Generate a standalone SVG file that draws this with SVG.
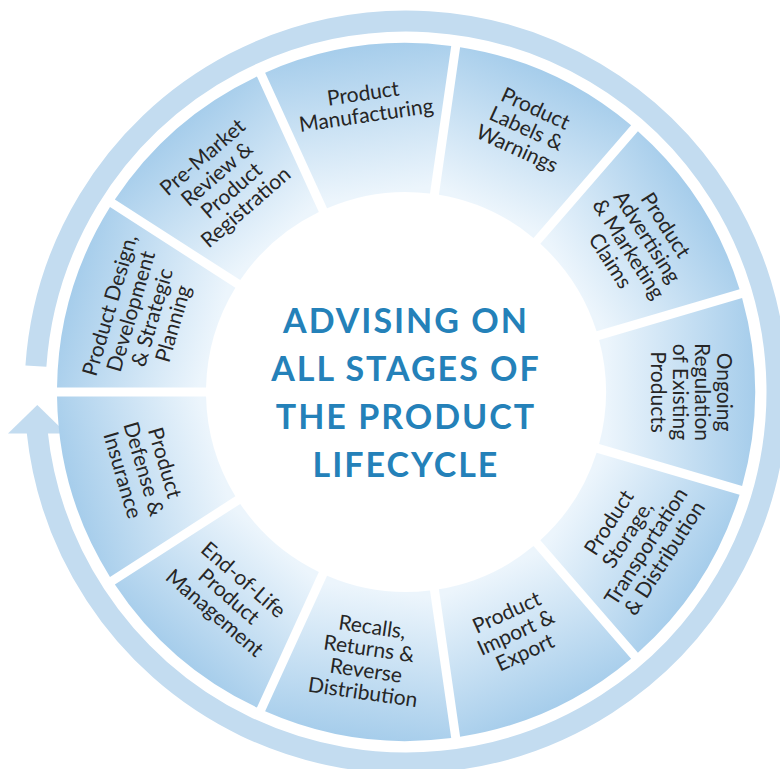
<svg xmlns="http://www.w3.org/2000/svg" width="780" height="769" viewBox="0 0 780 769">
<style>
.seg{fill:url(#segGrad);}
.lbl{font-family:Lato,"Liberation Sans",sans-serif;font-size:21px;fill:#262626;text-anchor:middle;}
.ttl{font-family:Lato,"Liberation Sans",sans-serif;font-weight:bold;font-size:34px;fill:#2481b9;text-anchor:middle;letter-spacing:2px;}
.ring{fill:none;stroke:#c3dcf0;stroke-width:21;}
.head{fill:#c3dcf0;}
</style>
<defs>
<linearGradient id="segGrad" gradientUnits="userSpaceOnUse" x1="606" y1="392" x2="755" y2="392">
<stop offset="0" stop-color="#ecf5fc"/>
<stop offset="1" stop-color="#a6cdeb"/>
</linearGradient>
<path id="seg" d="M 742.10 298.00 A 349 349 0 0 1 742.10 486.00 L 599.12 444.01 A 200 200 0 0 0 599.12 339.99 Z"/>
</defs>
<rect width="780" height="769" fill="#ffffff"/>
<g id="connectors">
<path class="ring" d="M 35.90 366.12 A 371 371 0 1 1 37.06 431"/>
<polygon class="head" points="37.3,405 66.5,433.5 8,433.5"/>
</g>
<g id="seg-manufacturing">
<use href="#seg" class="seg" transform="rotate(-98.1818 406 392)"/>
<text class="lbl" transform="translate(364.59 103.96) rotate(-8.18)"><tspan x="0" y="-3.5">Product</tspan><tspan x="0" y="18.5">Manufacturing</tspan></text>
</g>
<g id="seg-labels">
<use href="#seg" class="seg" transform="rotate(-65.4545 406 392)"/>
<text class="lbl" transform="translate(526.47 128.21) rotate(24.55)"><tspan x="0" y="-14.5">Product</tspan><tspan x="0" y="7.5">Labels &amp;</tspan><tspan x="0" y="29.5">Warnings</tspan></text>
</g>
<g id="seg-advertising">
<use href="#seg" class="seg" transform="rotate(-32.7273 406 392)"/>
<text class="lbl" transform="translate(638.19 242.78) rotate(57.27)"><tspan x="0" y="-25.5">Product</tspan><tspan x="0" y="-3.5">Advertising</tspan><tspan x="0" y="18.5">&amp; Marketing</tspan><tspan x="0" y="40.5">Claims</tspan></text>
</g>
<g id="seg-ongoing">
<use href="#seg" class="seg"/>
<text class="lbl" transform="translate(691 392) rotate(90)"><tspan x="0" y="-25.5">Ongoing</tspan><tspan x="0" y="-3.5">Regulation</tspan><tspan x="0" y="18.5">of Existing</tspan><tspan x="0" y="40.5">Products</tspan></text>
</g>
<g id="seg-storage">
<use href="#seg" class="seg" transform="rotate(32.7273 406 392)"/>
<text class="lbl" transform="translate(636.50 540.14) rotate(-57.27)"><tspan x="0" y="-25.5">Product</tspan><tspan x="0" y="-3.5">Storage,</tspan><tspan x="0" y="18.5">Transportation</tspan><tspan x="0" y="40.5">&amp; Distribution</tspan></text>
</g>
<g id="seg-import">
<use href="#seg" class="seg" transform="rotate(65.4545 406 392)"/>
<text class="lbl" transform="translate(515.67 632.14) rotate(-24.55)"><tspan x="0" y="-14.5">Product</tspan><tspan x="0" y="7.5">Import &amp;</tspan><tspan x="0" y="29.5">Export</tspan></text>
</g>
<g id="seg-recalls">
<use href="#seg" class="seg" transform="rotate(98.1818 406 392)"/>
<text class="lbl" transform="translate(367.58 659.25) rotate(8.18)"><tspan x="0" y="-25.5">Recalls,</tspan><tspan x="0" y="-3.5">Returns &amp;</tspan><tspan x="0" y="18.5">Reverse</tspan><tspan x="0" y="40.5">Distribution</tspan></text>
</g>
<g id="seg-endoflife">
<use href="#seg" class="seg" transform="rotate(130.9091 406 392)"/>
<text class="lbl" transform="translate(229.19 596.05) rotate(40.91)"><tspan x="0" y="-14.5">End-of-Life</tspan><tspan x="0" y="7.5">Product</tspan><tspan x="0" y="29.5">Management</tspan></text>
</g>
<g id="seg-defense">
<use href="#seg" class="seg" transform="rotate(163.6364 406 392)"/>
<text class="lbl" transform="translate(144.06 468.91) rotate(73.64)"><tspan x="0" y="-14.5">Product</tspan><tspan x="0" y="7.5">Defense &amp;</tspan><tspan x="0" y="29.5">Insurance</tspan></text>
</g>
<g id="seg-design">
<use href="#seg" class="seg" transform="rotate(-163.6364 406 392)"/>
<text class="lbl" transform="translate(141.18 314.24) rotate(-73.64)"><tspan x="0" y="-25.5">Product Design,</tspan><tspan x="0" y="-3.5">Development</tspan><tspan x="0" y="18.5">&amp; Strategic</tspan><tspan x="0" y="40.5">Planning</tspan></text>
</g>
<g id="seg-premarket">
<use href="#seg" class="seg" transform="rotate(-130.9091 406 392)"/>
<text class="lbl" transform="translate(223.95 181.90) rotate(-40.91)"><tspan x="0" y="-25.5">Pre-Market</tspan><tspan x="0" y="-3.5">Review &amp;</tspan><tspan x="0" y="18.5">Product</tspan><tspan x="0" y="40.5">Registration</tspan></text>
</g>
<g id="title">
<text class="ttl"><tspan x="406" y="332.5">ADVISING ON</tspan><tspan x="406" y="380.8">ALL STAGES OF</tspan><tspan x="406" y="429.1">THE PRODUCT</tspan><tspan x="406" y="477.4">LIFECYCLE</tspan></text>
</g>
</svg>
